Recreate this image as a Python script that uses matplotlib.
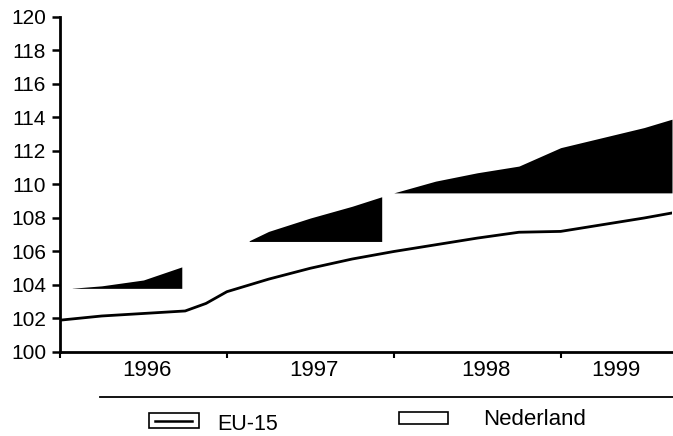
import matplotlib.pyplot as plt
import matplotlib.lines as mlines
import matplotlib.patches as mpatches
import numpy as np

plt.rcParams['font.family'] = ['Liberation Sans', 'DejaVu Sans']

# quarters since start of 1996 (last point ~Aug 1999)
t = [0, 0.25, 0.5, 0.75, 0.875, 1.0, 1.25, 1.5, 1.75, 2.0, 2.25, 2.5, 2.75, 3.0, 3.25, 3.5, 3.667]
eu15 = [101.9, 102.15, 102.3, 102.45, 102.9, 103.6, 104.35, 105.0, 105.55, 106.0, 106.4,
        106.8, 107.15, 107.2, 107.6, 108.0, 108.3]
nederland = [103.75, 103.95, 104.3, 105.15, 105.55, 106.0, 107.2, 108.0, 108.7, 109.5, 110.2,
             110.7, 111.1, 112.2, 112.8, 113.4, 113.9]
# visible dark parts of the Nederland band in the scan: (from, to, floor)
nl_parts = [(0.07, 0.73, 103.8), (1.13, 1.93, 106.6), (1.99, 3.667, 109.5)]
years = ['1996', '1997', '1998', '1999']

fig = plt.figure(figsize=(6.73, 4.36), dpi=100)
ax = fig.add_axes([60 / 673, 84 / 436, 612 / 673, 335 / 436])

xx = np.linspace(0, t[-1], 800)
nl = np.interp(xx, t, nederland)
for a, b, floor in nl_parts:
    m = (xx >= a) & (xx <= b)
    ax.fill_between(xx[m], floor, np.maximum(nl[m], floor), color='black', lw=0)

ax.plot(t, eu15, color='black', lw=2)

ax.set_xlim(0, t[-1])
ax.set_ylim(100, 120)
ax.set_yticks(range(100, 121, 2))
ax.set_xticks([0, 1, 2, 3])
ax.set_xticklabels([])
ax.set_xticks([0.52, 1.52, 2.55, 3.33], minor=True)
ax.set_xticklabels(years, minor=True, fontsize=16)
ax.tick_params(axis='x', which='minor', length=0, pad=6)
ax.tick_params(axis='x', which='major', length=4, width=1.5)
ax.tick_params(axis='y', length=6, width=1.8, labelsize=15, pad=4)
ax.spines['top'].set_visible(False)
ax.spines['right'].set_visible(False)
ax.spines['left'].set_linewidth(2)
ax.spines['bottom'].set_linewidth(2)

# legend block under the chart
W, H = 673, 436
fig.add_artist(mlines.Line2D([100 / W, 1], [1 - 397 / H] * 2, color='black', lw=1.3))
fig.add_artist(mpatches.Rectangle((149 / W, 1 - 428 / H), 50 / W, 15 / H,
                                  fill=False, ec='black', lw=1.2))
fig.add_artist(mlines.Line2D([155 / W, 192 / W], [1 - 421 / H] * 2, color='black', lw=1.8))
fig.text(217 / W, 1 - 424 / H, 'EU-15', fontsize=15.5, va='center')
fig.add_artist(mpatches.Rectangle((399 / W, 1 - 424 / H), 49 / W, 12 / H,
                                  fill=False, ec='black', lw=1.2))
fig.text(483 / W, 1 - 419 / H, 'Nederland', fontsize=16, va='center')

fig.savefig('out.png', dpi=100)
